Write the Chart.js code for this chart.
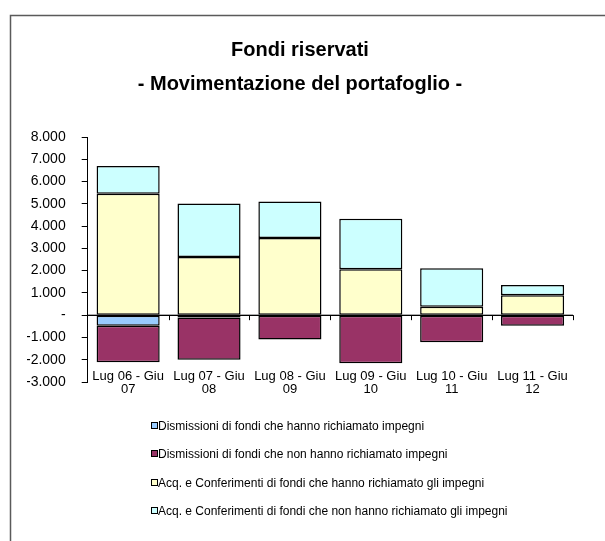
<!DOCTYPE html>
<html>
<head>
<meta charset="utf-8">
<script src="https://cdn.jsdelivr.net/npm/chart.js@4"></script>
<style>
  html, body { margin: 0; padding: 0; background: #fff; }
  canvas { display: block; }
</style>
</head>
<body>
<canvas id="chart" width="605" height="541"></canvas>
<script>
const categories = [
  ["Lug 06 - Giu", "07"],
  ["Lug 07 - Giu", "08"],
  ["Lug 08 - Giu", "09"],
  ["Lug 09 - Giu", "10"],
  ["Lug 10 - Giu", "11"],
  ["Lug 11 - Giu", "12"]
];
const dismImpegni    = [-480, -100, 0, 0, -20, -20];
const dismNonImpegni = [-1630, -1900, -1090, -2160, -1190, -460];
const acqImpegni     = [5450, 2610, 3470, 2060, 380, 900];
const acqNonImpegni  = [1250, 2400, 1630, 2270, 1730, 460];
const seriesNames = [
  "Dismissioni di fondi che hanno richiamato impegni",
  "Dismissioni di fondi che non hanno richiamato impegni",
  "Acq. e Conferimenti di fondi che hanno richiamato gli impegni",
  "Acq. e Conferimenti di fondi che non hanno richiamato gli impegni"
];
const seriesColors = ["#99CCFF", "#993366", "#FFFFCC", "#CCFFFF"];
const yTicks = [-3000, -2000, -1000, 0, 1000, 2000, 3000, 4000, 5000, 6000, 7000, 8000];
const yTickLabels = ["-3.000", "-2.000", "-1.000", "-", "1.000", "2.000", "3.000", "4.000", "5.000", "6.000", "7.000", "8.000"];

const FONT = "'Liberation Sans', Arial, sans-serif";

// outer frame of the excel chart object
const framePlugin = {
  id: "frame",
  beforeDraw(c) {
    const ctx = c.ctx;
    ctx.save();
    ctx.strokeStyle = "#5a5a5a";
    ctx.lineWidth = 1.5;
    ctx.strokeRect(10.5, 15.5, 700, 600);
    ctx.restore();
  }
};

// little category ticks hanging under the zero line
const zeroTicksPlugin = {
  id: "zeroTicks",
  afterDatasetsDraw(c) {
    const ctx = c.ctx, xs = c.scales.x, ys = c.scales.y;
    const y0 = ys.getPixelForValue(0);
    ctx.save();
    ctx.strokeStyle = "#000";
    ctx.lineWidth = 1;
    ctx.beginPath();
    ctx.moveTo(xs.left, y0);
    ctx.lineTo(xs.right, y0);
    for (let i = 1; i <= categories.length; i++) {
      const x = Math.round(xs.getPixelForValue(i - 0.5)) + 0.5;
      ctx.moveTo(x, y0);
      ctx.lineTo(x, y0 + 5);
    }
    ctx.stroke();
    ctx.restore();
  }
};

// vertical legend, one entry per row, like the excel one
const legendPlugin = {
  id: "vlegend",
  afterDraw(c) {
    const ctx = c.ctx;
    const x0 = 151, top = 426, step = 28.3;
    ctx.save();
    ctx.font = "12px " + FONT;
    ctx.textBaseline = "middle";
    c.data.datasets.forEach((ds, i) => {
      const y = Math.round(top + i * step);
      ctx.fillStyle = ds.backgroundColor;
      ctx.fillRect(x0, y - 3, 6, 6);
      ctx.strokeStyle = "#000";
      ctx.lineWidth = 1;
      ctx.strokeRect(x0 + 0.5, y - 3.5, 6, 6);
      ctx.fillStyle = "#000";
      ctx.fillText(ds.label, x0 + 7, y + 0.5);
    });
    ctx.restore();
  }
};

const datasets = [dismImpegni, dismNonImpegni, acqImpegni, acqNonImpegni].map((d, i) => ({
  label: seriesNames[i],
  data: d,
  backgroundColor: seriesColors[i],
  borderColor: "#000",
  borderWidth: 1.5,
  borderSkipped: false,
  categoryPercentage: 1,
  barPercentage: 0.78
}));

new Chart(document.getElementById("chart"), {
  type: "bar",
  data: { labels: categories, datasets },
  options: {
    responsive: false,
    animation: false,
    devicePixelRatio: 1,
    layout: { padding: { top: 16, left: 27, right: 32, bottom: 153 } },
    plugins: {
      legend: { display: false },
      tooltip: { enabled: false },
      title: {
        display: true,
        text: ["Fondi riservati", "- Movimentazione del portafoglio -"],
        color: "#000",
        font: { family: FONT, size: 20, weight: "bold", lineHeight: 1.7 },
        padding: { top: 17, bottom: 36 }
      }
    },
    scales: {
      x: {
        stacked: true,
        grid: { display: false },
        border: { display: false },
        ticks: {
          color: "#000",
          mirror: true,
          padding: -1,
          maxRotation: 0,
          autoSkip: false,
          font: { family: FONT, size: 13, lineHeight: 1 }
        }
      },
      y: {
        stacked: true,
        min: -3000,
        max: 8000,
        afterBuildTicks: (s) => { s.ticks = yTicks.map(v => ({ value: v })); },
        afterFit: (s) => { s.width -= 17; },
        grid: {
          color: (ctx) => ctx.tick && ctx.tick.value === 0 ? "#000" : "rgba(0,0,0,0)",
          tickColor: "#000",
          tickLength: 6
        },
        border: { display: true, color: "#000", width: 1 },
        ticks: {
          color: "#000",
          padding: 16,
          font: { family: FONT, size: 14 },
          callback: (v) => {
            const i = yTicks.indexOf(v);
            return i >= 0 ? yTickLabels[i] : "";
          }
        }
      }
    }
  },
  plugins: [framePlugin, zeroTicksPlugin, legendPlugin]
});
</script>
</body>
</html>
